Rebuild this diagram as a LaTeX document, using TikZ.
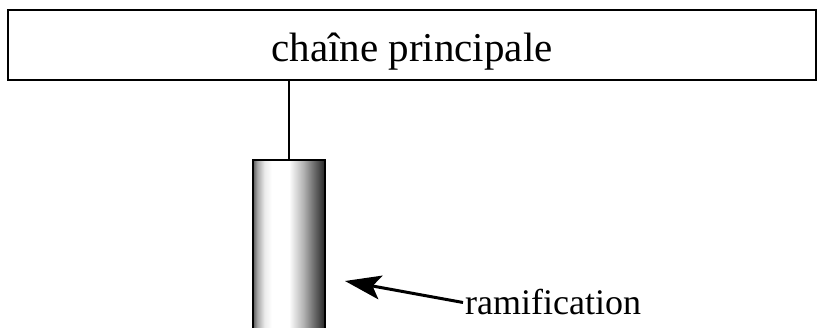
\documentclass[tikz,border=0pt]{standalone}
\usepackage{fontspec}
\setmainfont{Liberation Serif}
\usepackage{xcolor}
\usepackage{tikz}
\usetikzlibrary{arrows.meta}

\pgfdeclarehorizontalshading{ramifshade}{100bp}{color(0bp)=(black!65); color(25bp)=(black!65); color(28bp)=(black!35); color(33bp)=(black!8); color(38bp)=(white); color(50bp)=(white); color(60bp)=(black!30); color(68bp)=(black!60); color(75bp)=(black!85); color(100bp)=(black!85)}

\begin{document}
\begin{tikzpicture}[x=1pt, y=-1pt]
    \useasboundingbox (0,0) rectangle (823,328);
    \node[rectangle, draw, line width=2pt, minimum width=808pt, minimum height=70pt, text height=43pt, text depth=9pt, font=\fontsize{41}{49}\selectfont] (chaine) at (412,45) {chaîne principale};
    \node[rectangle, draw, line width=2.5pt, shading=ramifshade, minimum width=72pt, minimum height=190pt, anchor=north] (ramif) at (289,159) {};
    \coordinate (tip) at (345,281);
    \node[inner sep=2pt, anchor=base west, font=\fontsize{36}{43}\selectfont] (label) at (463,315) {ramification};

    \draw[line width=1.5pt] (ramif.north) -- (ramif.north |- chaine.south);
    \draw[line width=3pt, -{Stealth[length=36pt, width=24pt, inset=8pt]}] (label.west) -- (tip);
\end{tikzpicture}
\end{document}
